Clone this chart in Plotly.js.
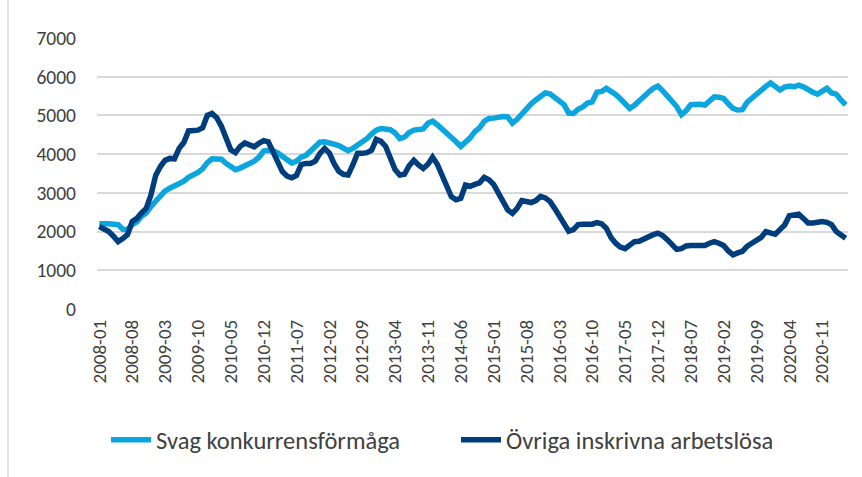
<!DOCTYPE html>
<html>
<head>
<meta charset="utf-8">
<script src="https://cdn.plot.ly/plotly-3.0.1.min.js"></script>
<style>html,body{margin:0;padding:0;background:#fff}#chart{width:862px;height:477px}</style>
</head>
<body>
<div id="chart"></div>
<script>
// Months 2008-01 .. 2021-04
var months = [];
for (var y = 2008; y <= 2021; y++) {
  for (var m = 1; m <= 12; m++) {
    if (y === 2021 && m > 4) break;
    months.push(y + '-' + (m < 10 ? '0' + m : '' + m));
  }
}
var tickLabels = ['2008-01','2008-08','2009-03','2009-10','2010-05','2010-12','2011-07','2012-02','2012-09','2013-04','2013-11','2014-06','2015-01','2015-08','2016-03','2016-10','2017-05','2017-12','2018-07','2019-02','2019-09','2020-04','2020-11'];

var seriesNames = ['Svag konkurrensförmåga', 'Övriga inskrivna arbetslösa'];

var svag = [2200,2210,2200,2190,2180,2060,2050,2180,2250,2400,2480,2650,2800,2950,3050,3120,3180,3230,3300,3400,
3460,3530,3620,3780,3880,3890,3870,3760,3680,3600,3640,3700,3740,3820,3920,4080,4100,4090,4030,3940,
3850,3770,3820,3920,3970,4100,4220,4310,4320,4300,4260,4220,4150,4090,4150,4230,4300,4400,4520,4620,
4660,4660,4630,4550,4400,4440,4560,4620,4640,4650,4800,4850,4760,4660,4560,4450,4320,4200,4300,4420,
4580,4680,4850,4920,4930,4960,4970,4960,4800,4900,5050,5180,5300,5400,5500,5580,5560,5480,5400,5280,
5060,5050,5160,5220,5320,5350,5600,5620,5700,5630,5540,5430,5300,5180,5260,5390,5500,5600,5700,5760,
5640,5500,5360,5230,5020,5120,5280,5300,5290,5270,5400,5480,5470,5440,5300,5180,5140,5150,5340,5450,
5550,5650,5750,5840,5760,5660,5730,5760,5740,5780,5740,5660,5600,5550,5640,5700,5580,5550,5400,5270];

var ovriga = [2130,2080,2000,1880,1740,1820,1920,2260,2340,2480,2600,2950,3450,3680,3840,3890,3880,4150,4300,4600,
4610,4620,4680,5000,5050,4940,4720,4420,4110,4040,4200,4290,4220,4190,4280,4350,4320,4050,3800,3550,
3430,3390,3450,3730,3760,3760,3820,4020,4150,4030,3760,3560,3480,3460,3720,4020,4020,4040,4100,4380,
4330,4200,3900,3600,3460,3480,3700,3840,3720,3630,3740,3920,3740,3450,3200,2900,2820,2860,3200,3170,
3220,3260,3400,3340,3220,3000,2810,2560,2470,2600,2800,2790,2750,2800,2910,2870,2780,2600,2390,2200,
2010,2050,2180,2190,2180,2190,2230,2200,2090,1850,1700,1600,1560,1630,1740,1750,1820,1850,1920,1960,
1900,1790,1660,1540,1560,1630,1640,1630,1630,1640,1700,1740,1700,1640,1500,1400,1450,1490,1620,1700,
1780,1850,2000,1960,1930,2050,2170,2410,2430,2450,2340,2220,2220,2250,2260,2240,2180,2000,1900,1830];

var yTicks = [0,1000,2000,3000,4000,5000,6000,7000];

var font = 'Carlito, Calibri, "Liberation Sans", Arial, sans-serif';
var traces = [
  {x: months, y: svag, name: seriesNames[0], type: 'scatter', mode: 'lines',
   line: {color: '#0ba5df', width: 5.5}},
  {x: months, y: ovriga, name: seriesNames[1], type: 'scatter', mode: 'lines',
   line: {color: '#003d7c', width: 5.5}}
];

var layout = {
  width: 862, height: 477,
  margin: {l: 97, r: 14, t: 38, b: 168},
  paper_bgcolor: '#fff', plot_bgcolor: '#fff',
  font: {family: font, color: '#404040'},
  showlegend: true,
  legend: {orientation: 'h', x: 0.012, xanchor: 'left', y: -0.40, yanchor: 'top',
           font: {size: 24.5, color: '#404040'}, itemwidth: 40, tracegroupgap: 0,
           entrywidth: 295, entrywidthmode: 'pixels'},
  xaxis: {type: 'category', range: [-0.5, months.length - 0.5],
          tickmode: 'array', tickvals: tickLabels, ticktext: tickLabels,
          tickangle: -90, tickfont: {size: 19, color: '#404040'},
          showgrid: false, zeroline: false, showline: false, ticks: '',
          ticklabelstandoff: 6, fixedrange: true, automargin: false},
  yaxis: {range: [0, 7000], tickmode: 'array', tickvals: yTicks,
          tickfont: {size: 19.5, color: '#404040'},
          showgrid: true, gridcolor: '#d9d9d9', gridwidth: 2,
          zeroline: false, showline: false, ticks: '',
          ticklabelstandoff: 20, fixedrange: true, automargin: false},
  shapes: [
    {type: 'line', xref: 'paper', yref: 'paper', x0: -0.1185, x1: -0.1185, y0: -0.62, y1: 1.14,
     line: {color: '#d9d9d9', width: 1.5}}
  ]
};

Plotly.newPlot('chart', traces, layout, {displayModeBar: false, staticPlot: true});
</script>
</body>
</html>
